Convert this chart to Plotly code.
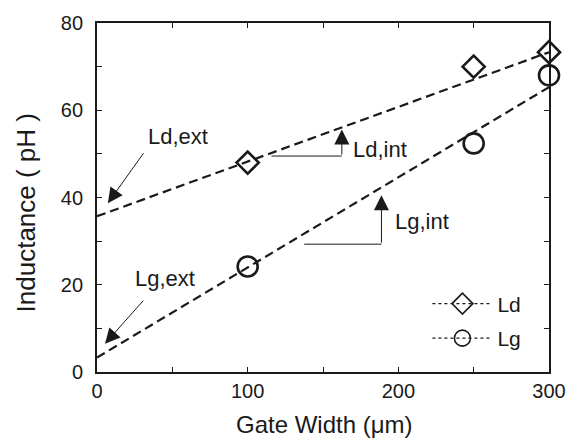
import plotly.graph_objects as go

# Measured inductances versus gate width
gate_width = [100, 250, 300]
ld_values = [48.0, 70.0, 73.3]
lg_values = [24.2, 52.4, 68.0]

# Linear extrapolation lines (end points at 0 and 300 um)
fit_x = [0, 300]
ld_fit = [35.7, 73.3]
lg_fit = [3.3, 65.3]

x_ticks = [0, 50, 100, 150, 200, 250, 300]
x_ticktext = ["0", "", "100", "", "200", "", "300"]
y_ticks = [0, 10, 20, 30, 40, 50, 60, 70, 80]
y_ticktext = ["0", "", "20", "", "40", "", "60", "", "80"]

FONT = "Liberation Sans, Arial, sans-serif"
INK = "#1a1a1a"

fig = go.Figure()

# dashed extrapolation lines
for yv in (ld_fit, lg_fit):
    fig.add_trace(go.Scatter(
        x=fit_x, y=yv, mode="lines", showlegend=False, cliponaxis=False,
        line=dict(color=INK, width=2.2, dash="9px,5px"),
        hoverinfo="skip"))

# measured points
fig.add_trace(go.Scatter(
    x=gate_width, y=ld_values, mode="markers", showlegend=False, cliponaxis=False,
    marker=dict(symbol="diamond-open", size=17, color=INK, line=dict(width=2.6, color=INK))))
fig.add_trace(go.Scatter(
    x=gate_width, y=lg_values, mode="markers", showlegend=False, cliponaxis=False,
    marker=dict(symbol="circle-open", size=20, color=INK, line=dict(width=2.6, color=INK))))

# legend entries, one legend box per row
fig.add_trace(go.Scatter(
    x=[None], y=[None], mode="lines+markers", name="Ld", legend="legend",
    line=dict(color=INK, width=1.3, dash="3px,3px"),
    marker=dict(symbol="diamond-open", size=16, color=INK, line=dict(width=1.6, color=INK))))
fig.add_trace(go.Scatter(
    x=[None], y=[None], mode="lines+markers", name="Lg", legend="legend2",
    line=dict(color=INK, width=1.3, dash="3px,3px"),
    marker=dict(symbol="circle-open", size=18, color=INK, line=dict(width=1.6, color=INK))))

# intercept labels with arrows
labels = [
    dict(text="Ld,ext", x=54, y=54.0, tip=(7.2, 38.7), tail=(31.6, 50.5)),
    dict(text="Lg,ext", x=45, y=21.4, tip=(5.3, 6.5), tail=(31.6, 16.7)),
]
annotations = []
for lab in labels:
    annotations.append(dict(x=lab["x"], y=lab["y"], xref="x", yref="y", text=lab["text"],
                            showarrow=False, font=dict(family=FONT, size=22, color=INK)))
    annotations.append(dict(x=lab["tip"][0], y=lab["tip"][1], ax=lab["tail"][0], ay=lab["tail"][1],
                            xref="x", yref="y", axref="x", ayref="y", text="",
                            showarrow=True, arrowhead=2, arrowsize=3, arrowwidth=1,
                            arrowcolor=INK))

# slope brackets: horizontal run, then vertical arrow to the line
brackets = [
    dict(text="Ld,int", tx=188, ty=51.0, x0=115.8, x1=162.5, y0=49.5, y1=55.6),
    dict(text="Lg,int", tx=216, ty=34.6, x0=137.5, x1=188.8, y0=29.3, y1=40.5),
]
shapes = []
for b in brackets:
    shapes.append(dict(type="line", xref="x", yref="y", x0=b["x0"], x1=b["x1"],
                       y0=b["y0"], y1=b["y0"], line=dict(color=INK, width=1)))
    annotations.append(dict(x=b["x1"], y=b["y1"], ax=b["x1"], ay=b["y0"],
                            xref="x", yref="y", axref="x", ayref="y", text="",
                            showarrow=True, arrowhead=2, arrowsize=3, arrowwidth=1,
                            arrowcolor=INK))
    annotations.append(dict(x=b["tx"], y=b["ty"], xref="x", yref="y", text=b["text"],
                            showarrow=False, font=dict(family=FONT, size=22, color=INK)))

# axis titles
annotations.append(dict(x=0.504, y=-0.149, xref="paper", yref="paper",
                        text="Gate Width (\u03bcm)", showarrow=False,
                        xanchor="center", yanchor="middle",
                        font=dict(family=FONT, size=24, color=INK)))
annotations.append(dict(x=-0.158, y=0.456, xref="paper", yref="paper",
                        text="Inductance ( pH )", showarrow=False, textangle=-90,
                        xanchor="center", yanchor="middle",
                        font=dict(family=FONT, size=26, color=INK)))

axis_common = dict(showgrid=False, zeroline=False, showline=True, linecolor=INK,
                   linewidth=1.8, mirror="ticks", ticks="inside", ticklen=5,
                   tickwidth=1.3, tickcolor=INK,
                   tickfont=dict(family=FONT, size=20, color=INK))

legend_common = dict(xanchor="left", yanchor="middle", bgcolor="rgba(0,0,0,0)",
                     font=dict(family=FONT, size=21, color=INK), itemwidth=60)

fig.update_layout(
    width=578, height=447,
    margin=dict(l=97, r=25, t=17, b=75),
    paper_bgcolor="white", plot_bgcolor="white",
    font=dict(family=FONT, color=INK),
    xaxis=dict(range=[0, 300], tickmode="array", tickvals=x_ticks, ticktext=x_ticktext,
               ticklabelstandoff=0, **axis_common),
    yaxis=dict(range=[0, 80], tickmode="array", tickvals=y_ticks, ticktext=y_ticktext,
               ticklabelstandoff=8, **axis_common),
    legend=dict(x=0.731, y=0.195, **legend_common),
    legend2=dict(x=0.731, y=0.096, **legend_common),
    annotations=annotations,
    shapes=shapes,
)

fig.write_html("out.html")
